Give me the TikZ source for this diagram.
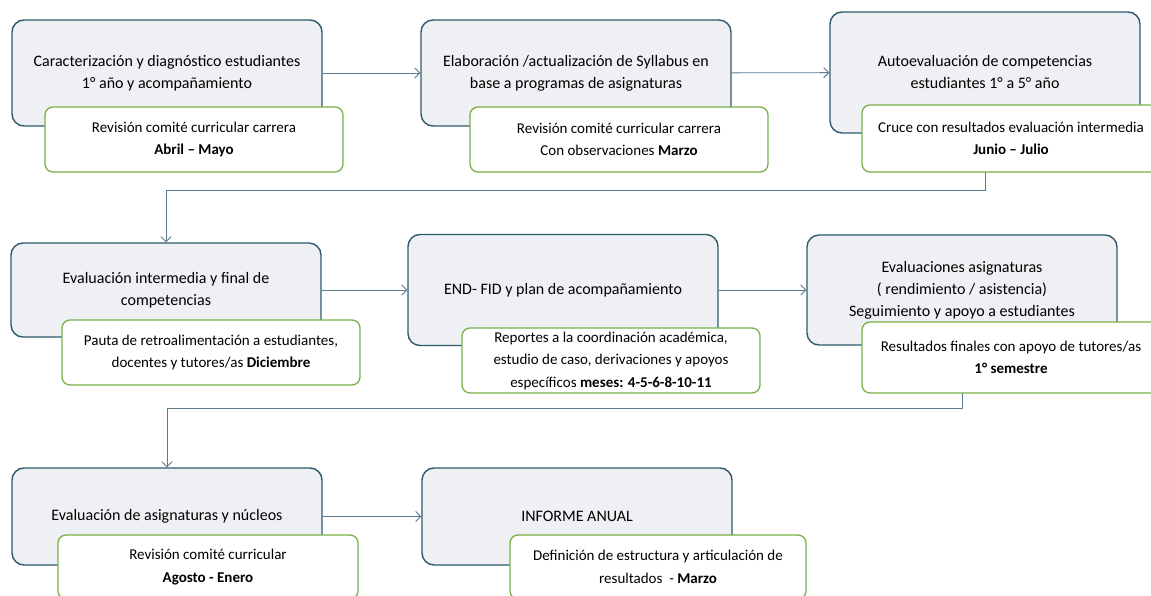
\documentclass[tikz,border=0pt]{standalone}
\usepackage{fontspec}
\setmainfont{Carlito}
\usepackage{xcolor}
\usetikzlibrary{positioning, arrows.meta}

\definecolor{stageline}{HTML}{2F5A6C}
\definecolor{stagefill}{HTML}{EEF0F3}
\definecolor{noteline}{HTML}{78B048}
\definecolor{linkcol}{HTML}{5B7B8E}

\begin{document}
\begin{tikzpicture}[x=1pt, y=-1pt,
    stage/.style={draw=stageline, fill=stagefill, line width=1.4pt, rounded corners=12pt,
      minimum width=310pt, align=center, font=\fontsize{16}{22}\selectfont},
    note/.style={draw=noteline, fill=white, line width=1.3pt, rounded corners=8pt,
      minimum width=298pt, minimum height=65pt, align=center, font=\fontsize{15}{22.5}\selectfont},
    link/.style={draw=linkcol, line width=0.9pt, -{Straight Barb[length=5pt, width=10pt]}}]
        \useasboundingbox (0,0) rectangle (1151,596);

        % Main stages
        \node[stage, minimum height=106pt] (A) at (167,73) {Caracterización y diagnóstico estudiantes\\1° año y acompañamiento};
        \node[stage, minimum height=106pt] (B) at (576,73) {Elaboración /actualización de Syllabus en\\base a programas de asignaturas};
        \node[stage, minimum height=121pt] (C) at (985,72.5) {Autoevaluación de competencias\\estudiantes 1° a 5° año};
        \node[stage, minimum height=94pt] (D) at (166,290) {Evaluación intermedia y final de\\competencias};
        \node[stage, minimum height=111pt] (E) at (563,290) {END- FID y plan de acompañamiento};
        \node[stage, minimum height=110pt] (F) at (962,290) {Evaluaciones asignaturas\\( rendimiento / asistencia)\\Seguimiento y apoyo a estudiantes};
        \node[stage, minimum height=97pt] (G) at (167,516.5) {Evaluación de asignaturas y núcleos};
        \node[stage, minimum height=97pt] (H) at (577,516.5) {INFORME ANUAL};

        % Connectors
        \draw[link] (A) -- (B);
        \draw[link] (B) -- (C);
        \draw[link] (C.south) -- ++(0,57) -| (D.north);
        \draw[link] (D) -- (E);
        \draw[link] (E) -- (F);
        \draw[link] (F.south) -- ++(0,63) -| (G.north);
        \draw[link] (G) -- (H);

        % Notes
        \node[note] (nA) at (194,139.5) {Revisión comité curricular carrera\\\textbf{Abril – Mayo}};
        \node[note] (nB) at (619,139.5) {Revisión comité curricular carrera\\Con observaciones \textbf{Marzo}};
        \node[note, minimum height=67pt] (nC) at (1011,138.5) {Cruce con resultados evaluación intermedia\\\textbf{Junio – Julio}};
        \node[note] (nD) at (211,352.5) {Pauta de retroalimentación a estudiantes,\\docentes y tutores/as \textbf{Diciembre}};
        \node[note, inner sep=1pt] (nE) at (611,360.5) {Reportes a la coordinación académica,\\estudio de caso, derivaciones y apoyos\\específicos \textbf{meses: 4-5-6-8-10-11}};
        \node[note, minimum height=71pt] (nF) at (1011,357.5) {Resultados finales con apoyo de tutores/as\\\textbf{1° semestre}};
        \node[note, minimum width=300pt, minimum height=64pt] (nG) at (208,567) {Revisión comité curricular\\\textbf{Agosto - Enero}};
        \node[note, minimum width=296pt, minimum height=64pt] (nH) at (658,567) {Definición de estructura y articulación de\\resultados \ - \textbf{Marzo}};
\end{tikzpicture}
\end{document}
